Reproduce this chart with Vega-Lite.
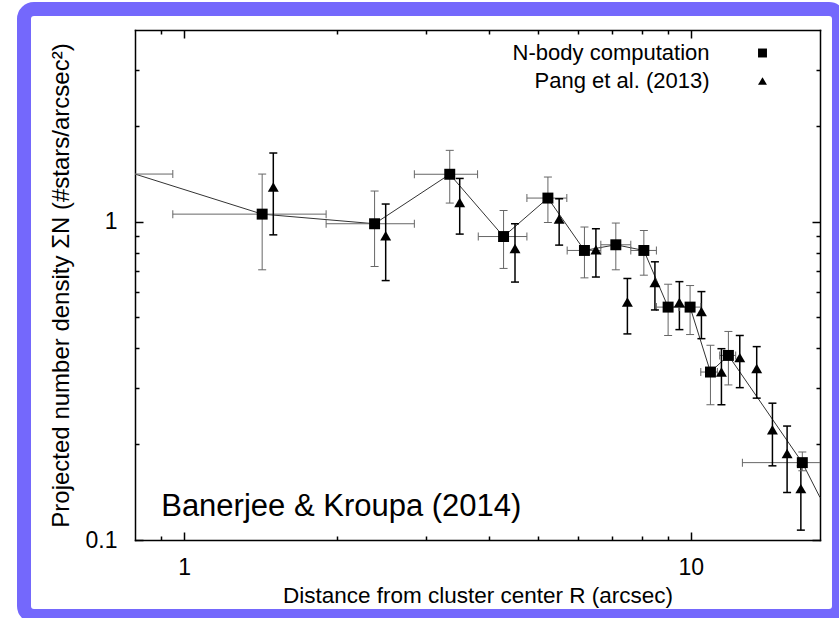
{
  "$schema": "https://vega.github.io/schema/vega-lite/v6.json",
  "width": 815,
  "height": 607,
  "autosize": {"type": "none"},
  "padding": {"left": 24, "top": 9, "right": 0, "bottom": 2},
  "background": "white",
  "config": {
    "font": "Liberation Sans",
    "view": {"stroke": "#7468fc", "strokeWidth": 14, "fill": "white", "cornerRadius": 10},
    "axis": {"grid": false, "labelColor": "black", "titleColor": "black", "labelFontSize": 23, "titleFontSize": 22, "titleFontWeight": "normal", "domainColor": "black", "tickColor": "black", "labelFlush": false, "labelFont": "Liberation Sans", "titleFont": "Liberation Sans"}
  },
  "data": {
    "values": [
      {"series": "N-body computation", "R": 0.49, "Sigma": 1.411, "R_lo": 0.03, "R_hi": 0.95, "S_lo": null, "S_hi": null},
      {"series": "N-body computation", "R": 1.426, "Sigma": 1.056, "R_lo": 0.95, "R_hi": 1.907, "S_lo": 0.706, "S_hi": 1.411},
      {"series": "N-body computation", "R": 2.377, "Sigma": 0.985, "R_lo": 1.907, "R_hi": 2.848, "S_lo": 0.723, "S_hi": 1.248},
      {"series": "N-body computation", "R": 3.345, "Sigma": 1.409, "R_lo": 2.848, "R_hi": 3.796, "S_lo": 1.144, "S_hi": 1.675},
      {"series": "N-body computation", "R": 4.272, "Sigma": 0.898, "R_lo": 3.808, "R_hi": 4.75, "S_lo": 0.713, "S_hi": 1.084},
      {"series": "N-body computation", "R": 5.226, "Sigma": 1.186, "R_lo": 4.75, "R_hi": 5.695, "S_lo": 0.994, "S_hi": 1.381},
      {"series": "N-body computation", "R": 6.17, "Sigma": 0.812, "R_lo": 5.704, "R_hi": 6.647, "S_lo": 0.666, "S_hi": 0.962},
      {"series": "N-body computation", "R": 7.116, "Sigma": 0.846, "R_lo": 6.647, "R_hi": 7.617, "S_lo": 0.706, "S_hi": 0.99},
      {"series": "N-body computation", "R": 8.083, "Sigma": 0.812, "R_lo": 7.617, "R_hi": 8.557, "S_lo": 0.679, "S_hi": 0.938},
      {"series": "N-body computation", "R": 9.025, "Sigma": 0.539, "R_lo": 8.557, "R_hi": 9.487, "S_lo": 0.439, "S_hi": 0.636},
      {"series": "N-body computation", "R": 9.973, "Sigma": 0.539, "R_lo": 9.487, "R_hi": 10.47, "S_lo": 0.442, "S_hi": 0.63},
      {"series": "N-body computation", "R": 10.94, "Sigma": 0.337, "R_lo": 10.47, "R_hi": 11.29, "S_lo": 0.266, "S_hi": 0.409},
      {"series": "N-body computation", "R": 11.87, "Sigma": 0.38, "R_lo": 11.41, "R_hi": 12.27, "S_lo": 0.307, "S_hi": 0.452},
      {"series": "N-body computation", "R": 16.61, "Sigma": 0.175, "R_lo": 12.65, "R_hi": 20.6, "S_lo": 0.165, "S_hi": 0.189},
      {"series": "N-body computation", "R": 18.3, "Sigma": 0.136, "R_lo": null, "R_hi": null, "S_lo": null, "S_hi": null},
      {"series": "Pang et al. (2013)", "R": 1.5, "Sigma": 1.285, "S_lo": 0.909, "S_hi": 1.643},
      {"series": "Pang et al. (2013)", "R": 2.5, "Sigma": 0.903, "S_lo": 0.653, "S_hi": 1.136},
      {"series": "Pang et al. (2013)", "R": 3.5, "Sigma": 1.149, "S_lo": 0.914, "S_hi": 1.367},
      {"series": "Pang et al. (2013)", "R": 4.5, "Sigma": 0.823, "S_lo": 0.646, "S_hi": 0.985},
      {"series": "Pang et al. (2013)", "R": 5.5, "Sigma": 1.019, "S_lo": 0.844, "S_hi": 1.18},
      {"series": "Pang et al. (2013)", "R": 6.5, "Sigma": 0.816, "S_lo": 0.67, "S_hi": 0.95},
      {"series": "Pang et al. (2013)", "R": 7.5, "Sigma": 0.559, "S_lo": 0.444, "S_hi": 0.663},
      {"series": "Pang et al. (2013)", "R": 8.5, "Sigma": 0.644, "S_lo": 0.528, "S_hi": 0.748},
      {"series": "Pang et al. (2013)", "R": 9.5, "Sigma": 0.557, "S_lo": 0.458, "S_hi": 0.648},
      {"series": "Pang et al. (2013)", "R": 10.5, "Sigma": 0.522, "S_lo": 0.429, "S_hi": 0.603},
      {"series": "Pang et al. (2013)", "R": 11.5, "Sigma": 0.337, "S_lo": 0.266, "S_hi": 0.399},
      {"series": "Pang et al. (2013)", "R": 12.5, "Sigma": 0.374, "S_lo": 0.301, "S_hi": 0.439},
      {"series": "Pang et al. (2013)", "R": 13.5, "Sigma": 0.346, "S_lo": 0.279, "S_hi": 0.405},
      {"series": "Pang et al. (2013)", "R": 14.5, "Sigma": 0.222, "S_lo": 0.171, "S_hi": 0.269},
      {"series": "Pang et al. (2013)", "R": 15.5, "Sigma": 0.187, "S_lo": 0.141, "S_hi": 0.228},
      {"series": "Pang et al. (2013)", "R": 16.5, "Sigma": 0.145, "S_lo": 0.1074, "S_hi": 0.171}
    ]
  },
  "resolve": {"axis": {"x": "independent", "y": "independent"}},
  "layer": [
    {
      "transform": [{"filter": "datum.series == 'N-body computation'"}],
      "mark": {"type": "line", "color": "#333333", "strokeWidth": 1},
      "encoding": {
        "x": {"field": "R", "type": "quantitative", "sort": null,
          "scale": {"type": "log", "domain": [0.8, 18], "range": [111, 796], "clamp": true, "nice": false},
          "axis": {"orient": "bottom", "offset": -76, "values": [1, 10], "format": "~g", "tickSize": -8, "tickWidth": 1.5, "domainWidth": 1.5, "domainCap": "square", "labelPadding": 24, "title": "Distance from cluster center R (arcsec)", "titleFontSize": 22.5, "titlePadding": 5}},
        "y": {"field": "Sigma", "type": "quantitative",
          "scale": {"type": "log", "domain": [0.1, 4], "range": [531, 21], "nice": false},
          "axis": {"orient": "left", "offset": -111, "values": [0.1, 1], "format": "~g", "tickSize": -8, "tickWidth": 1.5, "domainWidth": 1.5, "domainCap": "square", "labelPadding": 26, "title": "Projected number density ΣN (#stars/arcsec²)", "titleFontSize": 24, "titlePadding": 12}}
      }
    },
    {
      "transform": [{"filter": "datum.series == 'N-body computation' && isValid(datum.R_lo)"}],
      "mark": {"type": "rule", "color": "#666666", "strokeWidth": 1},
      "encoding": {
        "x": {"field": "R_lo", "type": "quantitative",
          "scale": {"type": "log", "domain": [0.8, 18], "range": [111, 796], "clamp": true, "nice": false},
          "axis": {"orient": "top", "offset": -21, "values": [1, 10], "tickSize": -8, "tickWidth": 1.5, "domainWidth": 1.5, "domainCap": "square", "labels": false, "title": null}},
        "x2": {"field": "R_hi"},
        "y": {"field": "Sigma", "type": "quantitative",
          "scale": {"type": "log", "domain": [0.1, 4], "range": [531, 21], "nice": false},
          "axis": {"orient": "right", "offset": -19, "values": [0.1, 1], "tickSize": -8, "tickWidth": 1.5, "domainWidth": 1.5, "domainCap": "square", "labels": false, "title": null}}
      }
    },
    {
      "transform": [{"filter": "datum.series == 'N-body computation' && isValid(datum.S_lo)"}],
      "mark": {"type": "rule", "color": "#666666", "strokeWidth": 1},
      "encoding": {
        "x": {"field": "R", "type": "quantitative",
          "scale": {"type": "log", "domain": [0.8, 18], "range": [111, 796], "clamp": true, "nice": false},
          "axis": {"orient": "bottom", "offset": -76, "values": [0.9, 2, 3, 4, 5, 6, 7, 8, 9], "tickSize": -4, "tickWidth": 1.5, "domain": false, "labels": false, "title": null}},
        "y": {"field": "S_lo", "type": "quantitative",
          "scale": {"type": "log", "domain": [0.1, 4], "range": [531, 21], "nice": false},
          "axis": {"orient": "left", "offset": -111, "values": [0.2, 0.3, 0.4, 0.5, 0.6, 0.7, 0.8, 0.9, 2, 3], "tickSize": -4, "tickWidth": 1.5, "domain": false, "labels": false, "title": null}},
        "y2": {"field": "S_hi"}
      }
    },
    {
      "transform": [{"filter": "datum.series == 'Pang et al. (2013)'"}],
      "mark": {"type": "rule", "color": "black", "strokeWidth": 1.5},
      "encoding": {
        "x": {"field": "R", "type": "quantitative",
          "scale": {"type": "log", "domain": [0.8, 18], "range": [111, 796], "clamp": true, "nice": false},
          "axis": {"orient": "top", "offset": -21, "values": [0.9, 2, 3, 4, 5, 6, 7, 8, 9], "tickSize": -4, "tickWidth": 1.5, "domain": false, "labels": false, "title": null}},
        "y": {"field": "S_lo", "type": "quantitative",
          "scale": {"type": "log", "domain": [0.1, 4], "range": [531, 21], "nice": false},
          "axis": {"orient": "right", "offset": -19, "values": [0.2, 0.3, 0.4, 0.5, 0.6, 0.7, 0.8, 0.9, 2, 3], "tickSize": -4, "tickWidth": 1.5, "domain": false, "labels": false, "title": null}},
        "y2": {"field": "S_hi"}
      }
    },
    {
      "transform": [{"filter": "datum.series == 'N-body computation' && isValid(datum.R_lo) && datum.R_lo >= 0.8"}],
      "mark": {"type": "tick", "orient": "vertical", "size": 8, "thickness": 1, "color": "#666666", "opacity": 1},
      "encoding": {
        "x": {"field": "R_lo", "type": "quantitative", "axis": null},
        "y": {"field": "Sigma", "type": "quantitative", "axis": null}
      }
    },
    {
      "transform": [{"filter": "datum.series == 'N-body computation' && isValid(datum.R_hi) && datum.R_hi <= 18"}],
      "mark": {"type": "tick", "orient": "vertical", "size": 8, "thickness": 1, "color": "#666666", "opacity": 1},
      "encoding": {
        "x": {"field": "R_hi", "type": "quantitative", "axis": null},
        "y": {"field": "Sigma", "type": "quantitative", "axis": null}
      }
    },
    {
      "transform": [{"filter": "datum.series == 'N-body computation' && isValid(datum.S_lo)"}],
      "mark": {"type": "tick", "orient": "horizontal", "size": 8, "thickness": 1, "color": "#666666", "opacity": 1},
      "encoding": {
        "x": {"field": "R", "type": "quantitative", "axis": null},
        "y": {"field": "S_lo", "type": "quantitative", "axis": null}
      }
    },
    {
      "transform": [{"filter": "datum.series == 'N-body computation' && isValid(datum.S_hi)"}],
      "mark": {"type": "tick", "orient": "horizontal", "size": 8, "thickness": 1, "color": "#666666", "opacity": 1},
      "encoding": {
        "x": {"field": "R", "type": "quantitative", "axis": null},
        "y": {"field": "S_hi", "type": "quantitative", "axis": null}
      }
    },
    {
      "transform": [{"filter": "datum.series == 'Pang et al. (2013)'"}],
      "mark": {"type": "tick", "orient": "horizontal", "size": 8, "thickness": 1.5, "color": "black", "opacity": 1},
      "encoding": {
        "x": {"field": "R", "type": "quantitative", "axis": null},
        "y": {"field": "S_lo", "type": "quantitative", "axis": null}
      }
    },
    {
      "transform": [{"filter": "datum.series == 'Pang et al. (2013)'"}],
      "mark": {"type": "tick", "orient": "horizontal", "size": 8, "thickness": 1.5, "color": "black", "opacity": 1},
      "encoding": {
        "x": {"field": "R", "type": "quantitative", "axis": null},
        "y": {"field": "S_hi", "type": "quantitative", "axis": null}
      }
    },
    {
      "transform": [{"filter": "datum.R >= 0.8 && datum.R <= 18"}],
      "mark": {"type": "point", "filled": true, "color": "black", "opacity": 1, "size": 120, "strokeWidth": 0},
      "encoding": {
        "x": {"field": "R", "type": "quantitative", "axis": null},
        "y": {"field": "Sigma", "type": "quantitative", "axis": null},
        "shape": {"field": "series", "type": "nominal",
          "scale": {"domain": ["N-body computation", "Pang et al. (2013)"], "range": ["square", "triangle-up"]},
          "legend": {"orient": "none", "legendX": 727.5, "legendY": 33, "title": null, "labelAlign": "right", "labelOffset": -64, "labelFontSize": 22, "labelFont": "Liberation Sans", "labelColor": "black", "labelLimit": 400, "symbolSize": 80, "symbolFillColor": "black", "symbolStrokeColor": "black", "symbolStrokeWidth": 0, "padding": 0, "rowPadding": 6}}
      }
    },
    {
      "data": {"values": [{}]},
      "mark": {"type": "text", "text": "Banerjee & Kroupa (2014)", "fontSize": 31, "font": "Liberation Sans", "align": "left", "baseline": "alphabetic", "color": "black"},
      "encoding": {
        "x": {"datum": 0.9012, "type": "quantitative", "axis": null},
        "y": {"datum": 0.1191, "type": "quantitative", "axis": null}
      }
    }
  ]
}
